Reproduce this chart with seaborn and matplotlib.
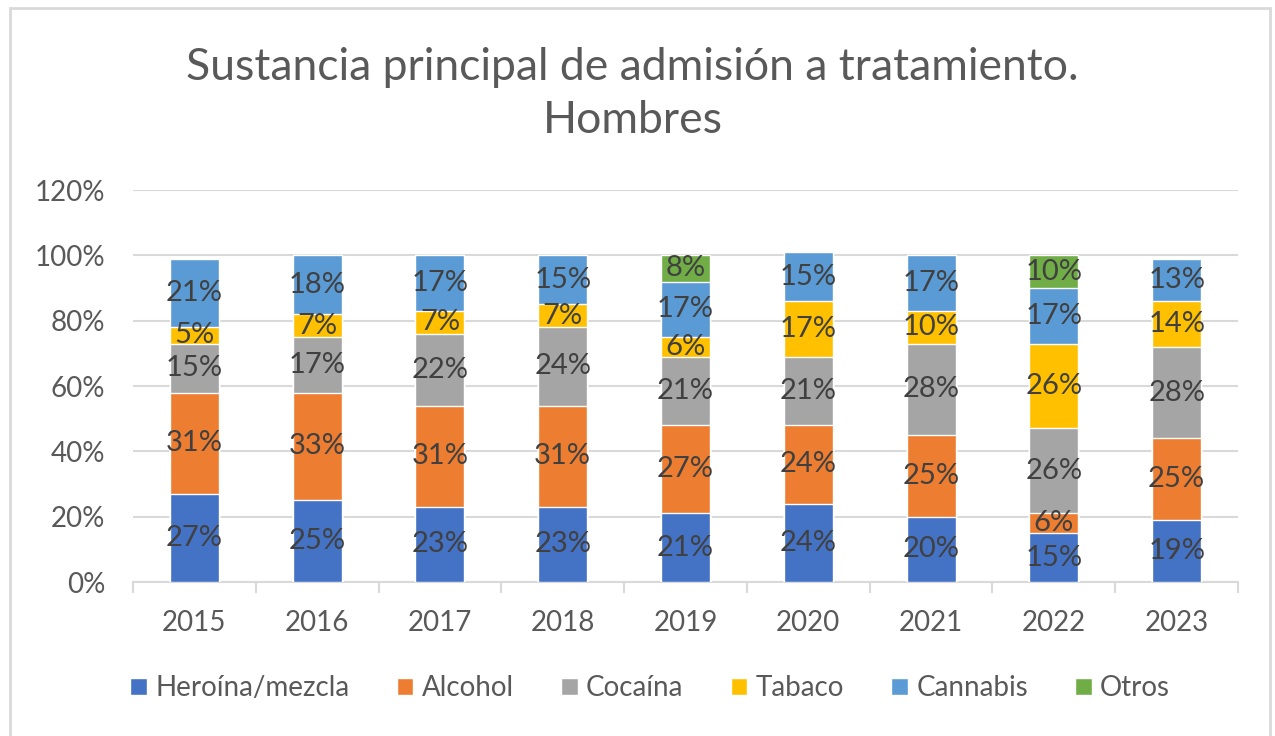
import numpy as np
import pandas as pd
import matplotlib
matplotlib.use("Agg")
import matplotlib.pyplot as plt
import seaborn as sns
from matplotlib.patches import Patch, Rectangle
from matplotlib.ticker import PercentFormatter, FixedLocator

years = ["2015", "2016", "2017", "2018", "2019", "2020", "2021", "2022", "2023"]
heroina = [27, 25, 23, 23, 21, 24, 20, 15, 19]
alcohol = [31, 33, 31, 31, 27, 24, 25, 6, 25]
cocaina = [15, 17, 22, 24, 21, 21, 28, 26, 28]
tabaco = [5, 7, 7, 7, 6, 17, 10, 26, 14]
cannabis = [21, 18, 17, 15, 17, 15, 17, 17, 13]
otros = [0, 0, 0, 0, 8, 0, 0, 10, 0]

names = ["Heroína/mezcla", "Alcohol", "Cocaína", "Tabaco", "Cannabis", "Otros"]
series = [heroina, alcohol, cocaina, tabaco, cannabis, otros]
colors = ["#4472C4", "#ED7D31", "#A5A5A5", "#FFC000", "#5B9BD5", "#70AD47"]

sns.set_style("white")
plt.rcParams["font.family"] = ["Lato", "DejaVu Sans"]

vals = np.array(series, dtype=float) / 100.0
tops = np.cumsum(vals, axis=0)
bottoms = tops - vals

fig = plt.figure(figsize=(12.75, 7.36), dpi=100)
ax = fig.add_axes([0.1043, 0.2092, 0.8667, 0.5326])

# stacked bars: draw cumulative heights from top layer down
for i in range(len(names) - 1, -1, -1):
    df = pd.DataFrame({"year": years, "top": tops[i]})
    sns.barplot(data=df, x="year", y="top", color=colors[i], width=0.4,
                saturation=1, ax=ax, zorder=3)

for i in range(len(names)):
    for j in range(len(years)):
        if series[i][j] > 0:
            ax.text(j, (bottoms[i][j] + tops[i][j]) / 2, f"{series[i][j]}%",
                    ha="center", va="center", fontsize=21, color="#404040",
                    zorder=4)

ax.set_ylim(0, 1.2)
ax.set_xlim(-0.5, len(years) - 0.5)
ax.set_yticks(np.arange(0, 1.21, 0.2))
ax.yaxis.set_major_formatter(PercentFormatter(1.0, decimals=0))
ax.grid(axis="y", color="#d9d9d9", linewidth=1.5, zorder=0)
ax.set_axisbelow(True)
ax.set_xlabel("")
ax.set_ylabel("")
for s in ["top", "right", "left"]:
    ax.spines[s].set_visible(False)
ax.spines["bottom"].set_color("#d9d9d9")
ax.spines["bottom"].set_linewidth(1.5)
ax.xaxis.set_minor_locator(FixedLocator(np.arange(-0.5, len(years), 1.0)))
ax.tick_params(axis="x", which="minor", length=8, width=1.5, color="#d9d9d9",
               direction="out", bottom=True)
ax.tick_params(axis="x", which="major", length=0, pad=20, labelsize=20,
               labelcolor="#595959")
ax.tick_params(axis="y", length=0, pad=20, labelsize=20, labelcolor="#595959")

fig.text(0.496, 0.872, "Sustancia principal de admisión a tratamiento.\nHombres",
         ha="center", va="center", fontsize=32, color="#595959",
         linespacing=1.35)

handles = [Patch(facecolor=c, label=n) for n, c in zip(names, colors)]
fig.legend(handles=handles, loc="center", bbox_to_anchor=(0.51, 0.065),
           ncol=6, frameon=False, fontsize=20, labelcolor="#595959",
           handlelength=0.6, handleheight=0.6, handletextpad=0.3,
           columnspacing=1.7)

fig.patches.append(Rectangle((10 / 1275, -0.02), 1260 / 1275, 1.02 - 8 / 736,
                             transform=fig.transFigure, fill=False,
                             edgecolor="#d9d9d9", linewidth=2))

fig.savefig("out.png", dpi=100)
